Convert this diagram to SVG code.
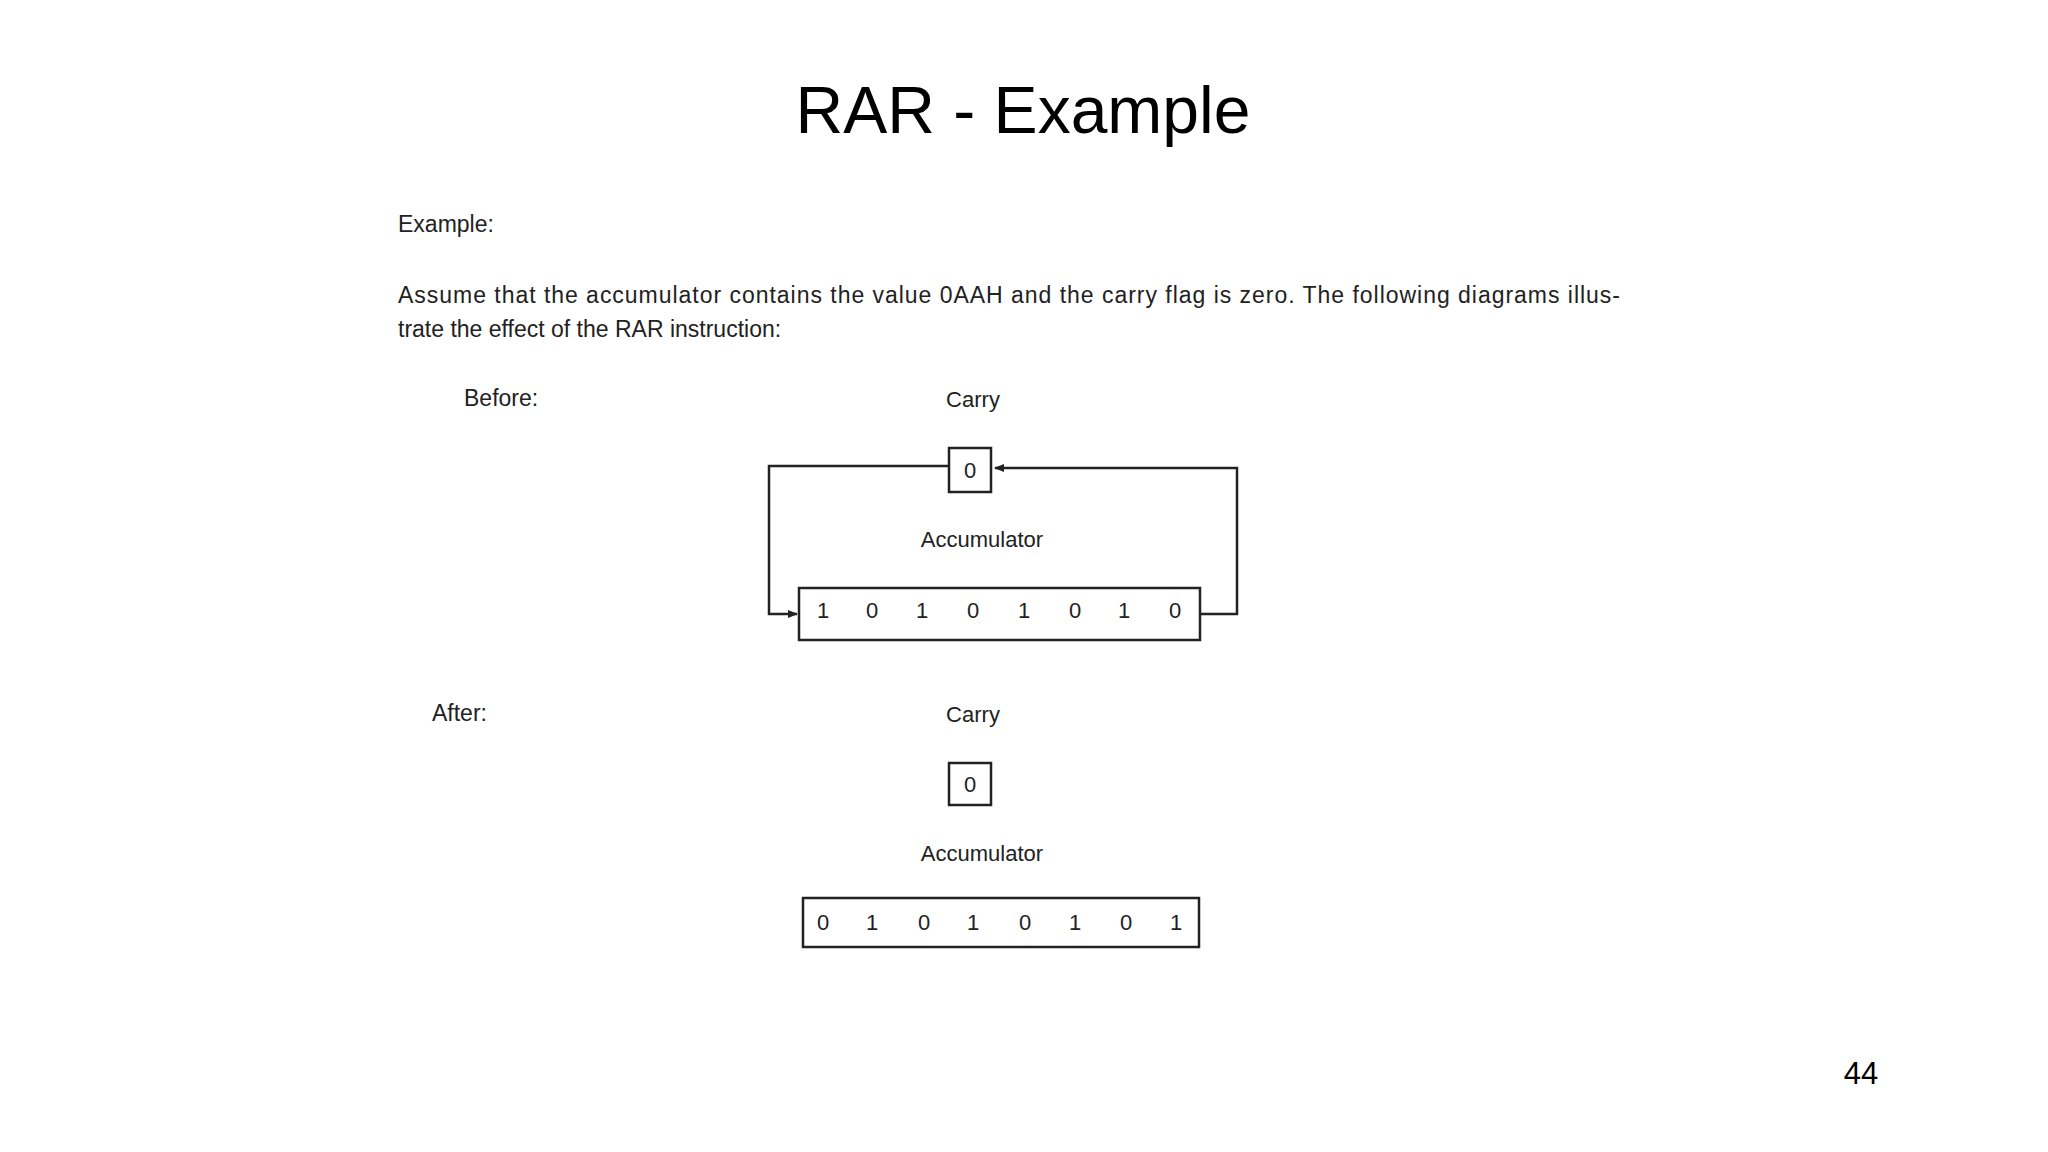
<svg xmlns="http://www.w3.org/2000/svg" width="2048" height="1152" viewBox="0 0 2048 1152">
<style>
.t{font-family:"Liberation Sans",Arial,sans-serif;font-size:23px;fill:#222}
.b{font-family:"Liberation Sans",Arial,sans-serif;font-size:22px;fill:#222;text-anchor:middle}
.box{fill:#fff;stroke:#222;stroke-width:2.5}
.ln{fill:none;stroke:#222;stroke-width:2.5}
</style>
<defs><marker id="ah" markerWidth="10" markerHeight="8" refX="9" refY="4" orient="auto" markerUnits="userSpaceOnUse" viewBox="0 0 10 8"><path d="M0,0L10,4L0,8z" fill="#222"/></marker></defs>
<rect width="2048" height="1152" fill="#fff"/>
<text x="1023" y="133" font-family="Liberation Sans,Arial,sans-serif" font-size="66" text-anchor="middle" fill="#000">RAR - Example</text>
<text class="t" x="398" y="232">Example:</text>
<text class="t" x="398" y="303" textLength="1222">Assume that the accumulator contains the value 0AAH and the carry flag is zero. The following diagrams illus-</text>
<text class="t" x="398" y="337">trate the effect of the RAR instruction:</text>
<text class="t" x="464" y="406">Before:</text>
<text class="t" x="432" y="721">After:</text>
<g id="connectors">
<path class="ln" d="M949,466H769V614H797" marker-end="url(#ah)"/>
<path class="ln" d="M1200,614H1237V468H995" marker-end="url(#ah)"/>
</g>
<g id="carry1"><text class="b" x="973" y="407">Carry</text><rect class="box" x="949" y="448" width="42" height="44"/><text class="b" x="970" y="478">0</text></g>
<g id="acc1"><text class="b" x="982" y="547">Accumulator</text><rect class="box" x="799" y="588" width="401" height="52"/>
<text class="b" y="618"><tspan x="823">1</tspan><tspan x="872">0</tspan><tspan x="922">1</tspan><tspan x="973">0</tspan><tspan x="1024">1</tspan><tspan x="1075">0</tspan><tspan x="1124">1</tspan><tspan x="1175">0</tspan></text></g>
<g id="carry2"><text class="b" x="973" y="722">Carry</text><rect class="box" x="949" y="763" width="42" height="42"/><text class="b" x="970" y="792">0</text></g>
<g id="acc2"><text class="b" x="982" y="861">Accumulator</text><rect class="box" x="803" y="898" width="396" height="49"/>
<text class="b" y="930"><tspan x="823">0</tspan><tspan x="872">1</tspan><tspan x="924">0</tspan><tspan x="973">1</tspan><tspan x="1025">0</tspan><tspan x="1075">1</tspan><tspan x="1126">0</tspan><tspan x="1176">1</tspan></text></g>
<text x="1861" y="1084" font-family="Liberation Sans,Arial,sans-serif" font-size="31" text-anchor="middle" fill="#000">44</text>
</svg>
